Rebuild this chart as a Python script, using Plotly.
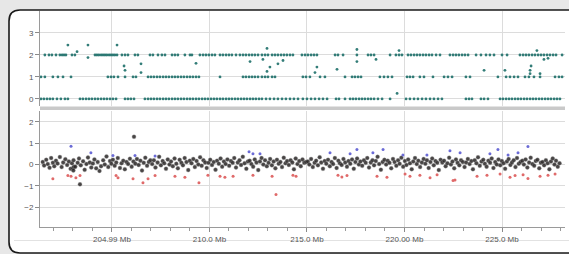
import plotly.graph_objects as go

W, H = 569, 254

# ---------------- data ----------------
tick_vals = [205, 210, 215, 220, 225]
tick_text = ["204.99 Mb", "210.0 Mb", "215.0 Mb", "220.00 Mb", "225.0 Mb"]

# top panel: copy-number state calls (teal)
lvl2_x = [201.56, 201.77, 201.92, 202.13, 202.33, 202.44, 202.54, 202.64, 202.95, 203.10,
          204.13, 204.23, 204.33, 204.44, 204.54, 204.64, 204.74, 204.85, 204.95, 205.05, 205.15, 205.26,
          205.51, 205.67, 205.82, 206.18, 206.33, 206.95, 207.10, 207.36, 207.56, 207.72,
          208.08, 208.23, 208.38, 208.74, 209.00, 209.10,
          209.51, 209.67, 209.82, 209.97, 210.13, 210.28, 210.54, 210.69, 210.85, 211.00, 211.15, 211.36,
          211.56, 211.72, 211.87, 212.03, 212.18, 212.33, 212.49, 212.69,
          212.85, 213.00, 213.21, 213.36, 213.51, 213.67, 213.82, 213.97, 214.13, 214.28,
          214.74, 214.90, 215.05, 215.21, 215.36, 215.51, 216.44, 216.59, 216.85, 217.56,
          218.13, 218.28, 218.44, 219.26, 219.56, 219.72, 219.87,
          220.18, 220.33, 220.49, 220.64, 220.79, 220.95, 221.10, 221.26, 221.41, 221.62, 221.82,
          222.33, 222.49, 222.64, 222.79, 222.95, 223.10, 223.26, 223.67, 223.92, 224.18, 224.38, 224.59,
          225.00, 225.26, 225.92, 226.08, 226.23, 226.38, 226.54, 226.69, 226.85, 227.00, 227.15, 227.31,
          227.46, 227.62, 227.77, 228.08]
lvl1_x = [201.36, 201.56, 201.97, 202.23, 202.49, 202.90, 204.79, 204.95, 205.10, 205.31, 205.67,
          206.08, 206.23, 206.85, 207.00, 207.15, 207.31, 207.46, 207.62, 207.77, 207.92, 208.08,
          208.23, 208.38, 208.54, 208.69, 208.85, 209.00, 209.15, 209.31, 209.46, 210.54,
          211.72, 211.87, 212.03, 212.18, 212.33, 212.49, 212.69, 212.85, 213.00, 213.21, 213.36,
          214.79, 214.95, 215.15, 215.67, 215.92, 216.95, 217.31, 217.46, 217.62, 217.77,
          218.74, 218.95, 219.15, 219.36, 220.13, 220.28, 220.44, 220.79, 221.00, 221.46,
          222.03, 222.23, 222.44, 223.15, 223.36, 224.79, 225.21, 225.41, 225.62, 225.82,
          226.18, 226.38, 226.64, 226.95, 227.72, 227.92, 228.08]
lvl0_x = [201.36, 201.51, 201.67, 201.82, 201.97, 202.18, 202.38, 202.59, 202.74,
          203.36, 203.51, 203.67, 203.82, 203.97, 204.13, 204.28, 204.44, 204.59, 204.74, 204.90, 205.05, 205.21,
          205.67, 205.82, 205.97, 206.13,
          206.69, 206.85, 207.00, 207.15, 207.31, 207.46, 207.62, 207.77, 207.92, 208.08,
          208.23, 208.38, 208.54, 208.69, 208.85, 209.00, 209.15, 209.31, 209.46, 209.62, 209.77, 209.92,
          210.08, 210.23, 210.38, 210.54, 210.69, 210.85, 211.00, 211.15, 211.31, 211.46, 211.62, 211.77,
          211.92, 212.08, 212.23, 212.38, 212.54, 212.69, 212.90, 213.10, 213.31, 213.51, 213.72, 213.92,
          214.13, 214.33, 214.54,
          214.79, 215.00, 215.21, 215.41, 215.62, 215.82, 216.03, 216.49, 216.64, 216.95,
          217.21, 217.36, 217.51, 217.67, 217.82, 217.97, 218.13, 218.28, 218.44, 218.64, 218.85, 219.26,
          220.08, 220.28, 220.49, 220.69, 220.90, 221.10, 221.31, 221.51, 221.72, 221.92,
          223.15, 223.31, 223.46, 223.92, 224.08, 224.28,
          224.90, 225.05, 225.21, 225.36, 225.51, 225.67, 225.82, 225.97, 226.13, 226.28, 226.44,
          226.59, 226.74, 226.90, 227.05, 227.21, 227.36, 227.51, 227.67, 227.82, 227.97]
off_x = [202.74, 203.21, 203.77, 203.77, 205.26, 205.67, 205.62, 206.49, 206.49, 209.31,
         212.08, 212.74, 212.95, 213.10, 212.95, 213.51, 213.77, 215.51, 215.41, 216.54,
         217.56, 217.56, 218.54, 219.72, 224.08, 225.15, 226.44, 226.44, 226.49, 226.95,
         226.79, 227.15, 227.36, 219.62]
off_y = [2.45, 2.15, 1.88, 2.45, 2.45, 1.30, 1.50, 1.20, 1.60, 1.62,
         1.70, 1.80, 2.30, 1.45, 1.25, 1.60, 1.75, 1.45, 1.20, 1.35,
         2.25, 1.70, 1.80, 2.20, 1.30, 1.30, 1.30, 1.15, 1.50, 1.15,
         2.20, 1.80, 1.85, 0.25]

# bottom panel: log-ratio values
black_x = [201.45, 201.52, 201.63, 201.71, 201.80, 201.88, 201.97,
           202.04, 202.13, 202.21, 202.33, 202.42, 202.50, 202.61, 202.70, 202.79, 202.88, 202.95,
           203.00, 203.02, 203.05,
           203.03, 203.12, 203.24, 203.31, 203.40, 203.52, 203.60, 203.69, 203.77, 203.86, 203.94,
           204.02, 204.10, 204.19, 204.27, 204.36, 204.44, 204.55, 204.63, 204.72, 204.81, 204.90, 204.97,
           205.05, 205.14, 205.22, 205.30, 205.41, 205.49, 205.58, 205.66, 205.75, 205.83, 205.92,
           206.01, 206.10, 206.20, 206.28, 206.37, 206.46, 206.54, 206.63, 206.71, 206.80, 206.89, 206.97,
           207.06, 207.15, 207.23, 207.34, 207.42, 207.51, 207.60, 207.68, 207.77, 207.86, 207.95,
           208.03, 208.12, 208.21, 208.30, 208.38, 208.47, 208.56, 208.64, 208.73, 208.82, 208.91, 208.99,
           209.08, 209.17, 209.25, 209.34, 209.43, 209.52, 209.60, 209.69, 209.78, 209.86, 209.95,
           210.04, 210.13, 210.22, 210.31, 210.39, 210.48, 210.57, 210.65, 210.74, 210.83, 210.92,
           211.01, 211.10, 211.19, 211.27, 211.36, 211.45, 211.54, 211.62, 211.71, 211.80, 211.89, 211.97,
           212.06, 212.15, 212.24, 212.32, 212.41, 212.50, 212.59, 212.67, 212.76, 212.85, 212.94,
           213.03, 213.11, 213.20, 213.29, 213.38, 213.46, 213.55, 213.64, 213.72, 213.81, 213.90, 213.98,
           214.07, 214.16, 214.25, 214.33, 214.42, 214.51, 214.60, 214.68, 214.77, 214.86, 214.95,
           215.04, 215.12, 215.21, 215.30, 215.39, 215.47, 215.56, 215.65, 215.73, 215.82, 215.91, 215.99,
           216.08, 216.17, 216.26, 216.34, 216.43, 216.52, 216.61, 216.69, 216.78, 216.87, 216.96,
           217.05, 217.13, 217.22, 217.31, 217.40, 217.48, 217.57, 217.66, 217.74, 217.83, 217.92,
           218.01, 218.09, 218.18, 218.27, 218.36, 218.44, 218.53, 218.62, 218.70, 218.79, 218.88, 218.97,
           219.06, 219.14, 219.23, 219.32, 219.41, 219.49, 219.58, 219.67, 219.75, 219.84, 219.93,
           220.02, 220.10, 220.19, 220.28, 220.37, 220.45, 220.54, 220.63, 220.71, 220.80, 220.89, 220.98,
           221.07, 221.15, 221.24, 221.33, 221.42, 221.50, 221.59, 221.68, 221.76, 221.85, 221.94,
           222.03, 222.11, 222.20, 222.29, 222.38, 222.46, 222.55, 222.64, 222.72, 222.81, 222.90, 222.99,
           223.08, 223.16, 223.25, 223.34, 223.43, 223.51, 223.60, 223.69, 223.77, 223.86, 223.95,
           224.04, 224.12, 224.21, 224.30, 224.39, 224.47, 224.56, 224.65, 224.73, 224.82, 224.91, 224.99,
           225.08, 225.16, 225.25, 225.34, 225.43, 225.51, 225.60, 225.69, 225.77, 225.86, 225.95,
           226.04, 226.12, 226.21, 226.30, 226.39, 226.47, 226.56, 226.65, 226.73, 226.82, 226.91, 226.99,
           227.08, 227.16, 227.25, 227.34, 227.43, 227.51, 227.60, 227.69, 227.77, 227.86, 227.95,
           206.13, 203.36]
black_y = [0.12, -0.05, 0.22, 0.02, -0.15, 0.30, 0.08,
           -0.08, 0.18, 0.05, 0.35, -0.12, 0.10, 0.25, -0.02, 0.14, -0.20, 0.06,
           -0.18, -0.28, -0.10,
           0.20, -0.10, 0.08, 0.28, -0.04, 0.15, -0.25, 0.02, 0.33, 0.10, -0.14,
           0.05, 0.24, -0.18, 0.12, -0.30, -0.08, 0.20, 0.00, 0.38, -0.12, 0.16, 0.04,
           0.22, -0.06, 0.10, 0.30, -0.16, 0.06, 0.18, -0.22, 0.12, 0.02, 0.27,
           -0.10, 0.14, 0.04, 0.26, -0.02, 0.18, -0.28, 0.08, 0.32, -0.06, 0.12, 0.20,
           0.02, 0.20, -0.14, 0.10, 0.36, -0.04, 0.16, 0.06, -0.20, 0.24, 0.00,
           0.14, -0.08, 0.28, 0.04, -0.18, 0.22, 0.08, -0.04, 0.30, 0.12, -0.26, 0.18,
           0.06, 0.26, -0.12, 0.16, 0.00, 0.34, -0.06, 0.20, 0.10, -0.16, 0.08,
           0.22, -0.02, 0.12, -0.24, 0.18, 0.04, 0.28, -0.10, 0.14, 0.02, 0.24,
           -0.06, 0.16, 0.08, 0.30, -0.14, 0.10, 0.20, -0.02, 0.36, 0.06, -0.20, 0.14,
           0.18, 0.02, -0.10, 0.24, 0.10, -0.26, 0.14, 0.30, 0.00, 0.20, -0.08,
           0.08, 0.26, -0.04, 0.14, -0.18, 0.22, 0.04, 0.12, -0.12, 0.32, 0.06, 0.16,
           -0.02, 0.20, 0.10, -0.22, 0.28, 0.02, 0.16, -0.08, 0.24, 0.08, 0.12,
           0.14, 0.00, 0.26, -0.12, 0.08, 0.18, -0.04, 0.34, 0.10, -0.20, 0.16, 0.04,
           0.22, -0.08, 0.12, 0.02, 0.30, -0.16, 0.18, 0.06, -0.02, 0.26, 0.10,
           -0.10, 0.16, 0.04, 0.24, -0.20, 0.12, 0.28, 0.00, 0.14, -0.06, 0.20,
           0.08, 0.30, -0.14, 0.10, 0.20, -0.04, 0.16, 0.36, 0.02, -0.24, 0.12, 0.22,
           0.00, 0.18, 0.08, -0.18, 0.26, 0.12, -0.06, 0.20, 0.04, 0.32, -0.10,
           0.16, -0.02, 0.24, 0.06, -0.22, 0.14, 0.30, 0.02, 0.18, -0.12, 0.10, 0.26,
           0.04, 0.20, -0.16, 0.12, 0.28, -0.04, 0.16, 0.08, -0.26, 0.22, 0.10,
           0.18, -0.08, 0.06, 0.32, 0.00, 0.14, -0.18, 0.24, 0.08, -0.04, 0.20, 0.12,
           -0.12, 0.10, 0.26, 0.02, 0.16, -0.22, 0.20, 0.06, 0.34, -0.06, 0.14,
           0.22, 0.04, -0.10, 0.18, 0.08, 0.28, -0.16, 0.12, 0.00, 0.24, -0.04, 0.16,
           0.06, -0.20, 0.14, 0.26, -0.02, 0.10, 0.20, -0.12, 0.30, 0.04, 0.12,
           0.18, 0.00, 0.24, -0.14, 0.10, 0.32, 0.02, -0.06, 0.16, 0.22, -0.18, 0.08,
           0.12, -0.04, 0.20, 0.06, -0.22, 0.14, 0.28, 0.00, 0.18, -0.10, 0.06,
           1.30, -0.93]
red_x = [201.97, 202.74, 202.90, 203.15, 203.36, 205.21, 205.31, 206.08, 206.59, 206.85, 207.21,
         208.23, 208.74, 209.46, 209.92, 210.54, 210.79, 211.21, 212.23, 213.21, 213.41, 214.28, 214.44,
         216.59, 216.79, 217.05, 218.59, 219.10, 220.03, 220.28, 220.79, 221.31, 221.67,
         222.49, 222.59, 223.72, 224.23, 224.90, 225.41, 225.67, 226.08, 226.33, 226.95, 227.36, 227.72]
red_y = [-0.67, -0.52, -0.55, -0.62, -0.52, -0.52, -0.62, -0.67, -0.86, -0.67, -0.52,
         -0.55, -0.60, -0.85, -0.50, -0.55, -0.60, -0.55, -0.50, -0.55, -1.40, -0.50, -0.55,
         -0.50, -0.58, -0.52, -0.55, -0.60, -0.45, -0.55, -0.50, -0.62, -0.48,
         -0.75, -0.72, -0.55, -0.50, -0.45, -0.60, -0.52, -0.48, -0.65, -0.55, -0.50, -0.45]
blue_x = [202.90, 203.92, 205.05, 206.18, 207.21, 212.03, 212.23, 212.59, 216.18, 217.21, 217.56,
          218.38, 218.90, 219.92, 221.15, 222.33, 222.85, 224.38, 224.79, 225.31, 225.82, 226.33]
blue_y = [0.86, 0.55, 0.42, 0.42, 0.40, 0.60, 0.50, 0.50, 0.55, 0.50, 0.70,
          0.55, 0.70, 0.45, 0.45, 0.65, 0.55, 0.50, 0.70, 0.45, 0.55, 0.85]

# ---------------- figure ----------------
TEAL = "#1d6f69"
fig = go.Figure()

top_x = lvl2_x + lvl1_x + lvl0_x + off_x
top_y = [2] * len(lvl2_x) + [1] * len(lvl1_x) + [0] * len(lvl0_x) + off_y
fig.add_trace(go.Scatter(x=top_x, y=top_y, mode="markers", xaxis="x2", yaxis="y2",
                         marker=dict(color=TEAL, size=2.8, opacity=0.9), showlegend=False, hoverinfo="skip"))
fig.add_trace(go.Scatter(x=black_x, y=black_y, mode="markers", xaxis="x", yaxis="y",
                         marker=dict(color="rgba(40,36,36,0.85)", size=4.0,
                                     line=dict(color="rgba(150,150,150,0.6)", width=0.6)),
                         showlegend=False, hoverinfo="skip"))
fig.add_trace(go.Scatter(x=red_x, y=red_y, mode="markers", xaxis="x", yaxis="y",
                         marker=dict(color="#e06a6a", size=3.0), showlegend=False, hoverinfo="skip"))
fig.add_trace(go.Scatter(x=blue_x, y=blue_y, mode="markers", xaxis="x", yaxis="y",
                         marker=dict(color="#6b6bd6", size=3.0), showlegend=False, hoverinfo="skip"))


def px(x):
    return x / W


def py(y):
    return 1 - y / H


# rounded white frame
L, T, R, B, r = 9, 10, 590, 253, 11
path = (f"M {px(L + r)},{py(T)} L {px(R - r)},{py(T)} Q {px(R)},{py(T)} {px(R)},{py(T + r)} "
        f"L {px(R)},{py(B - r)} Q {px(R)},{py(B)} {px(R - r)},{py(B)} "
        f"L {px(L + r)},{py(B)} Q {px(L)},{py(B)} {px(L)},{py(B - r)} "
        f"L {px(L)},{py(T + r)} Q {px(L)},{py(T)} {px(L + r)},{py(T)} Z")
shapes = [
    dict(type="path", path=path, xref="paper", yref="paper", layer="below",
         fillcolor="white", line=dict(color="#1a1a1a", width=1.6)),
    dict(type="rect", xref="paper", yref="paper", x0=px(40), x1=px(565), y0=py(110), y1=py(106.5),
         fillcolor="#c9c9c9", line=dict(width=0), layer="above"),
    dict(type="line", xref="paper", yref="paper", x0=px(14), x1=px(569), y0=py(240.5), y1=py(240.5),
         line=dict(color="#e2e2e2", width=1), layer="below"),
]

dom_x = [40 / W, 565 / W]
tickfont = dict(family="Liberation Sans, Arial, sans-serif", size=8, color="#555555")
GRID = "#dcdcdc"

fig.update_layout(
    width=W, height=H, margin=dict(l=0, r=0, t=0, b=0),
    paper_bgcolor="#e7e7e7", plot_bgcolor="rgba(0,0,0,0)",
    shapes=shapes,
    xaxis=dict(domain=dom_x, range=[201.31, 228.23], anchor="y",
               tickvals=tick_vals, ticktext=tick_text, tickfont=tickfont,
               ticks="outside", ticklen=4, tickcolor="#8a8a8a",
               showline=True, linecolor="#9a9a9a", linewidth=1,
               showgrid=True, gridcolor=GRID, zeroline=False,
               minor=dict(dtick=1, tick0=205, ticks="outside", ticklen=3, tickcolor="#9a9a9a", showgrid=False)),
    xaxis2=dict(domain=dom_x, range=[201.31, 228.23], anchor="y2", matches="x",
                tickvals=tick_vals, showticklabels=False, ticks="",
                showgrid=True, gridcolor=GRID, zeroline=False, showline=False),
    yaxis=dict(domain=[1 - 227 / H, 1 - 111 / H], range=[-2.93, 2.51], anchor="x",
               tickvals=[-2, -1, 0, 1, 2], tickfont=tickfont,
               ticks="outside", ticklen=4, tickcolor="#8a8a8a",
               showline=True, linecolor="#9a9a9a", linewidth=1,
               showgrid=True, gridcolor=GRID, zeroline=False),
    yaxis2=dict(domain=[1 - 106 / H, 1 - 11 / H], range=[-0.32, 4.0], anchor="x2",
                tickvals=[0, 1, 2, 3], tickfont=tickfont,
                ticks="outside", ticklen=4, tickcolor="#8a8a8a",
                showline=True, linecolor="#9a9a9a", linewidth=1,
                showgrid=True, gridcolor=GRID, zeroline=False),
)

fig.write_html("out.html", config={"displayModeBar": False},
               post_script="document.body.style.margin='0';document.body.style.overflow='hidden';")
